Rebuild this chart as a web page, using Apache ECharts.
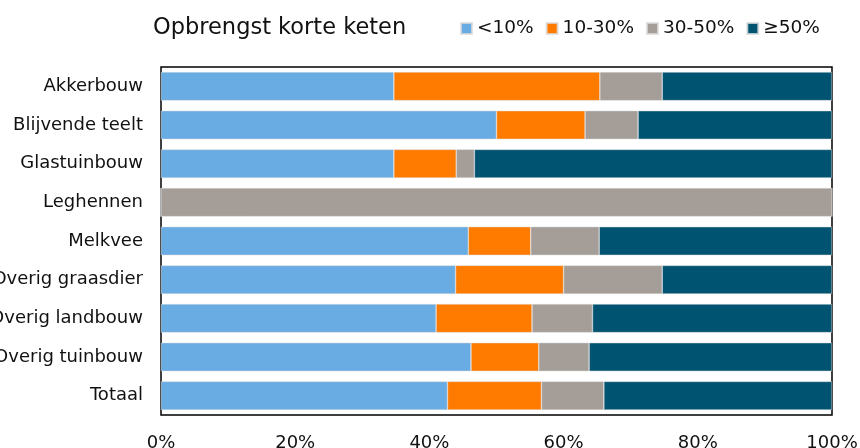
<!DOCTYPE html>
<html><head><meta charset="utf-8">
<script src="https://cdn.jsdelivr.net/npm/echarts@6/dist/echarts.min.js"></script>
<style>html,body{margin:0;padding:0;background:#fff}#c{width:860px;height:448px}</style>
</head><body><div id="c"></div>
<script>
const categories = ["Akkerbouw","Blijvende teelt","Glastuinbouw","Leghennen","Melkvee","Overig graasdier","Overig landbouw","Overig tuinbouw","Totaal"];
const seriesNames = ["<10%","10-30%","30-50%","≥50%"];
const lt10   = [34.7, 50.0, 34.7, 0,   45.8, 43.9, 41.0, 46.2, 42.7];
const p10_30 = [30.7, 13.2,  9.3, 0,    9.3, 16.1, 14.3, 10.1, 14.0];
const p30_50 = [ 9.3,  7.9,  2.7, 100, 10.2, 14.7,  9.0,  7.5,  9.3];
const ge50   = [25.3, 28.9, 53.3, 0,   34.7, 25.3, 35.7, 36.2, 34.0];
const xTicks = [0, 20, 40, 60, 80, 100];

const colors = ["#69ABE3","#FF7B00","#A59D97","#005472"];
const font = "DejaVu Sans";
const data = [lt10, p10_30, p30_50, ge50];
const chart = echarts.init(document.getElementById('c'));
chart.setOption({
  animation: false,
  textStyle: {fontFamily: font},
  title: {text: "Opbrengst korte keten", left: 148, top: 12,
    textStyle: {fontFamily: font, fontSize: 22.5, fontWeight: 'normal', color: '#111'}},
  legend: {left: 455, top: 14, itemWidth: 11, itemHeight: 11, itemGap: 12,
    icon: 'rect', data: seriesNames,
    textStyle: {fontFamily: font, fontSize: 18.5, color: '#111'}},
  grid: {left: 161, right: 28, top: 67, bottom: 33, show: true, borderColor: '#000', borderWidth: 1.5,
    containLabel: false, outerBoundsMode: 'none'},
  xAxis: {type: 'value', min: 0, max: 100, interval: 20,
    axisLine: {show: false}, axisTick: {show: false}, splitLine: {show: false},
    axisLabel: {formatter: v => xTicks.includes(v) ? v + '%' : '', fontFamily: font, fontSize: 18, color: '#111', margin: 19}},
  yAxis: {type: 'category', data: categories, inverse: true,
    axisLine: {show: false}, axisTick: {show: false},
    axisLabel: {fontFamily: font, fontSize: 18, color: '#111', margin: 18}},
  series: seriesNames.map((n, i) => ({
    name: n, type: 'bar', stack: 'total', data: data[i], barCategoryGap: '26%',
    itemStyle: {color: colors[i], borderColor: 'rgba(220,220,220,0.8)', borderWidth: 0.6}
  }))
});
</script></body></html>
